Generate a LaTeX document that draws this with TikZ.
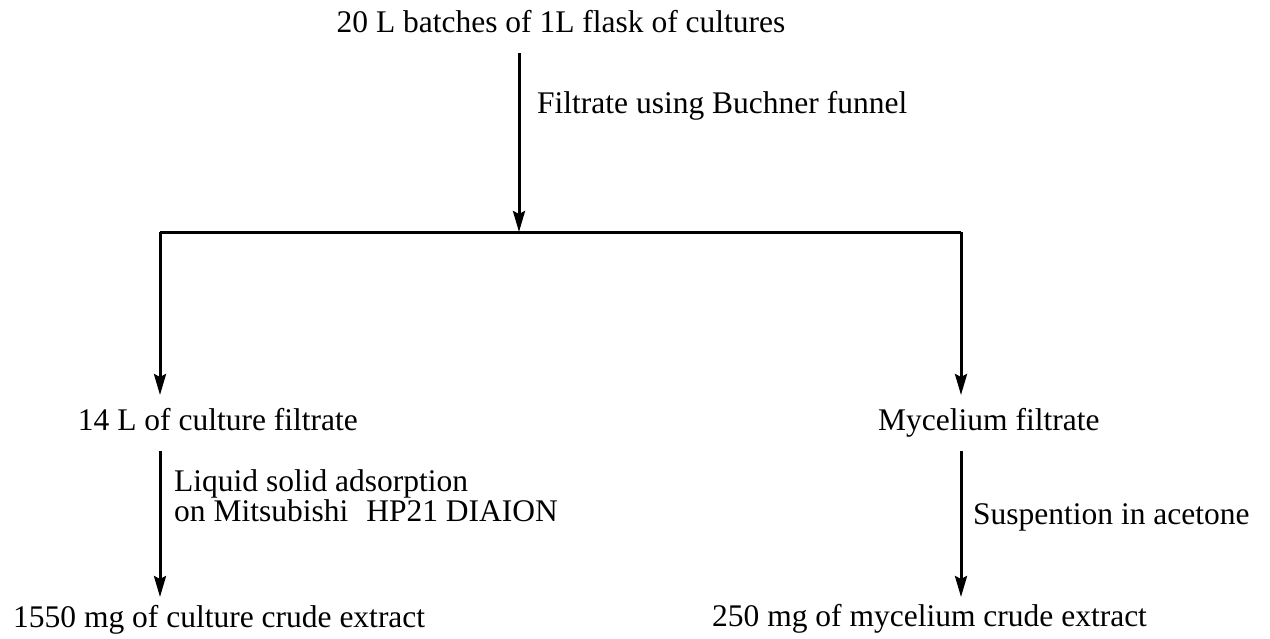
\documentclass[tikz,border=0pt]{standalone}
\usepackage{fontspec}
\setmainfont{Liberation Serif}
\usetikzlibrary{arrows.meta}
\begin{document}
\begin{tikzpicture}[x=1pt,y=-1pt,
  txt/.style={inner sep=0pt,font=\fontsize{31.5}{28}\selectfont},
  arr/.style={line width=3pt,-{Stealth[length=21pt,width=12pt,inset=3pt]}},
  ln/.style={line width=3pt}]
\useasboundingbox (0,0) rectangle (1270,638);
% texts
\node[txt,anchor=base] (top) at (561,32) {20 L batches of 1L flask of cultures};
\node[txt,anchor=base west] (l1) at (537,113) {Filtrate using Buchner funnel};
\node[txt,anchor=base east] (cf) at (358,430) {14 L of culture filtrate};
\node[txt,anchor=base west] (mf) at (878,430) {Mycelium filtrate};
\node[txt,anchor=base west,align=left] (l2) at (174,521) {Liquid solid adsorption\\on Mitsubishi\hspace{18pt}HP21 DIAION};
\node[txt,anchor=base west] (l3) at (973,524) {Suspention in acetone};
\node[txt,anchor=base west] (ce) at (13,627) {1550 mg of culture crude extract};
\node[txt,anchor=base west] (me) at (712,626) {250 mg of mycelium crude extract};
% coordinates
\coordinate (s1) at (519,53);
\coordinate (j) at (519,232);
\coordinate (jl) at (160,232);
\coordinate (jr) at (961,232);
\coordinate (tl) at (160,395);
\coordinate (tr) at (961,395);
\coordinate (sl) at (160,451);
\coordinate (el) at (160,597);
\coordinate (sr) at (961,451);
\coordinate (er) at (961,597);
% connectors
\draw[arr] (s1) -- (j);
\draw[ln] (jl) -- (jr);
\draw[arr] (jl) -- (tl);
\draw[arr] (jr) -- (tr);
\draw[arr] (sl) -- (el);
\draw[arr] (sr) -- (er);
\end{tikzpicture}
\end{document}
